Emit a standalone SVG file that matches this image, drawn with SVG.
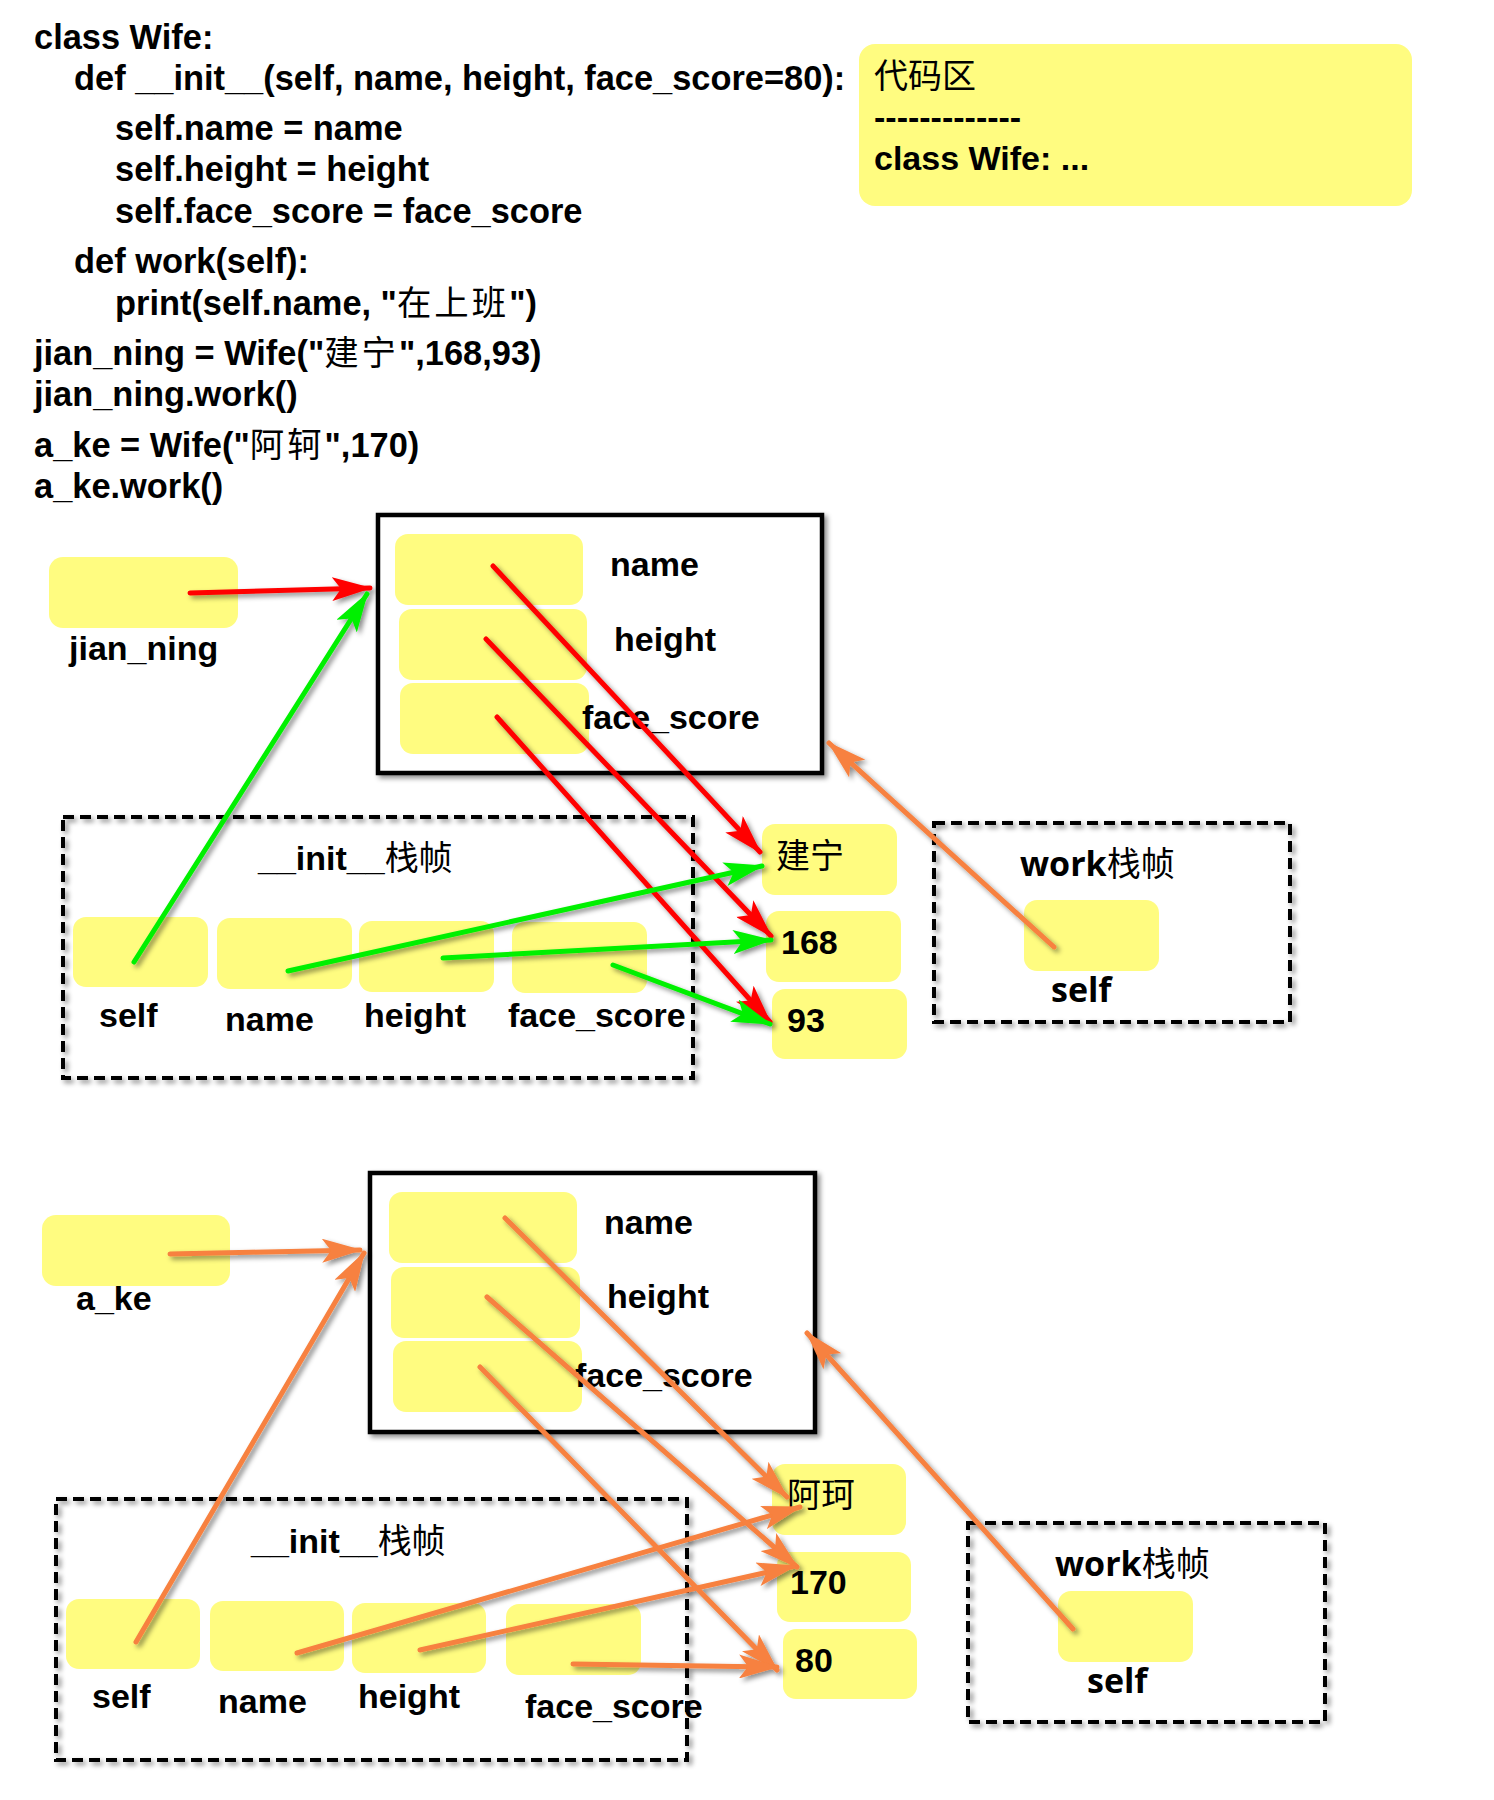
<svg xmlns="http://www.w3.org/2000/svg" width="1494" height="1800" viewBox="0 0 1494 1800">
<style>
text{font-family:"Liberation Sans","Noto Sans CJK SC",sans-serif;font-size:34px;font-weight:bold;fill:#000}
.code text{font-size:34.4px}
.cjk{font-family:"Noto Sans CJK SC",sans-serif;font-weight:normal}
.code .cjk{letter-spacing:3px}
.wk{font-family:"Open Sans","Liberation Sans","Noto Sans CJK SC",sans-serif;font-weight:bold}
.slot{fill:#FFFC80}
.obj{fill:#fff;stroke:#000;stroke-width:4.5}
.frame{fill:none;stroke:#000;stroke-width:4;stroke-dasharray:11 6}
.r{stroke:#FF0000;stroke-width:5;fill:none;stroke-linecap:round}
.g{stroke:#00F000;stroke-width:5;fill:none;stroke-linecap:round}
.o{stroke:#F7813F;stroke-width:5;fill:none;stroke-linecap:round}
</style>
<defs>
<filter id="sh" filterUnits="userSpaceOnUse" x="0" y="0" width="1494" height="1800">
<feDropShadow dx="3" dy="3" stdDeviation="2.5" flood-color="#000" flood-opacity="0.45"/>
</filter>
<marker id="ar" viewBox="0 0 40 24" refX="38" refY="12" markerWidth="40" markerHeight="24" markerUnits="userSpaceOnUse" orient="auto"><path d="M0,0 L40,12 L0,24 L9,12 Z" fill="#FF0000"/></marker>
<marker id="ag" viewBox="0 0 40 24" refX="38" refY="12" markerWidth="40" markerHeight="24" markerUnits="userSpaceOnUse" orient="auto"><path d="M0,0 L40,12 L0,24 L9,12 Z" fill="#00F000"/></marker>
<marker id="ao" viewBox="0 0 40 24" refX="38" refY="12" markerWidth="40" markerHeight="24" markerUnits="userSpaceOnUse" orient="auto"><path d="M0,0 L40,12 L0,24 L9,12 Z" fill="#F7813F"/></marker>
</defs>
<rect width="1494" height="1800" fill="#fff"/>

<g id="code" class="code">
<text x="34" y="49">class Wife:</text>
<text x="74" y="90">def __init__(self, name, height, face_score=80):</text>
<text x="115" y="140">self.name = name</text>
<text x="115" y="181">self.height = height</text>
<text x="115" y="223">self.face_score = face_score</text>
<text x="74" y="273">def work(self):</text>
<text x="115" y="315">print(self.name, "<tspan class="cjk">在上班</tspan>")</text>
<text x="34" y="365">jian_ning = Wife("<tspan class="cjk">建宁</tspan>",168,93)</text>
<text x="34" y="406">jian_ning.work()</text>
<text x="34" y="457">a_ke = Wife("<tspan class="cjk">阿轲</tspan>",170)</text>
<text x="34" y="498">a_ke.work()</text>
</g>

<g id="code-area">
<rect x="859" y="44" width="553" height="162" rx="16" class="slot"/>
<text x="874" y="88" class="cjk">代码区</text>
<text x="874" y="129">-------------</text>
<text x="874" y="170">class Wife: ...</text>
</g>

<!-- Section 1 -->
<g id="jian_ning">
<rect x="49" y="557" width="189" height="71" rx="14" class="slot"/>
<text x="69" y="660">jian_ning</text>
</g>

<g id="obj1">
<rect x="378" y="515" width="444" height="258" class="obj" filter="url(#sh)"/>
<rect x="395" y="534" width="188" height="71" rx="13" class="slot"/>
<rect x="399" y="609" width="188" height="71" rx="13" class="slot"/>
<rect x="400" y="683" width="189" height="71" rx="13" class="slot"/>
<text x="610" y="576">name</text>
<text x="614" y="651">height</text>
<text x="582" y="729">face_score</text>
</g>

<g id="init1">
<rect x="63" y="817" width="630" height="261" class="frame" filter="url(#sh)"/>
<text x="258" y="870">__init__<tspan class="cjk">栈帧</tspan></text>
<rect x="73" y="917" width="135" height="70" rx="13" class="slot"/>
<rect x="217" y="918" width="135" height="71" rx="13" class="slot"/>
<rect x="359" y="921" width="135" height="71" rx="13" class="slot"/>
<rect x="512" y="922" width="135" height="71" rx="13" class="slot"/>
<text x="99" y="1027">self</text>
<text x="225" y="1031">name</text>
<text x="364" y="1027">height</text>
<text x="508" y="1027">face_score</text>
</g>

<g id="val-jianning">
<rect x="762" y="824" width="135" height="71" rx="13" class="slot"/>
<text x="776" y="868" class="cjk">建宁</text>
</g>
<g id="val-168">
<rect x="766" y="911" width="135" height="71" rx="13" class="slot"/>
<text x="781" y="954">168</text>
</g>
<g id="val-93">
<rect x="772" y="989" width="135" height="70" rx="13" class="slot"/>
<text x="787" y="1032">93</text>
</g>

<g id="work1">
<rect x="934" y="823" width="356" height="199" class="frame" filter="url(#sh)"/>
<text x="1020" y="876" class="wk">work<tspan class="cjk">栈帧</tspan></text>
<rect x="1024" y="900" width="135" height="71" rx="13" class="slot"/>
<text x="1051" y="1002" class="wk">self</text>
</g>

<!-- Section 2 -->
<g id="a_ke">
<rect x="42" y="1215" width="188" height="71" rx="14" class="slot"/>
<text x="76" y="1310">a_ke</text>
</g>

<g id="obj2">
<rect x="370" y="1173" width="445" height="259" class="obj" filter="url(#sh)"/>
<rect x="389" y="1192" width="188" height="71" rx="13" class="slot"/>
<rect x="391" y="1267" width="189" height="71" rx="13" class="slot"/>
<rect x="393" y="1341" width="189" height="71" rx="13" class="slot"/>
<text x="604" y="1234">name</text>
<text x="607" y="1308">height</text>
<text x="575" y="1387">face_score</text>
</g>

<g id="init2">
<rect x="56" y="1499" width="631" height="261" class="frame" filter="url(#sh)"/>
<text x="251" y="1553">__init__<tspan class="cjk">栈帧</tspan></text>
<rect x="66" y="1599" width="134" height="70" rx="13" class="slot"/>
<rect x="210" y="1601" width="134" height="70" rx="13" class="slot"/>
<rect x="352" y="1603" width="134" height="70" rx="13" class="slot"/>
<rect x="506" y="1604" width="135" height="71" rx="13" class="slot"/>
<text x="92" y="1708">self</text>
<text x="218" y="1713">name</text>
<text x="358" y="1708">height</text>
<text x="525" y="1718">face_score</text>
</g>

<g id="val-ake">
<rect x="772" y="1464" width="134" height="71" rx="13" class="slot"/>
<text x="787" y="1507" class="cjk">阿珂</text>
</g>
<g id="val-170">
<rect x="777" y="1552" width="134" height="70" rx="13" class="slot"/>
<text x="790" y="1594">170</text>
</g>
<g id="val-80">
<rect x="783" y="1629" width="134" height="70" rx="13" class="slot"/>
<text x="795" y="1672">80</text>
</g>

<g id="work2">
<rect x="968" y="1523" width="357" height="199" class="frame" filter="url(#sh)"/>
<text x="1055" y="1576" class="wk">work<tspan class="cjk">栈帧</tspan></text>
<rect x="1058" y="1591" width="135" height="71" rx="13" class="slot"/>
<text x="1087" y="1693" class="wk">self</text>
</g>

<g id="connectors" filter="url(#sh)">
<line x1="190" y1="593" x2="370" y2="588" class="r" marker-end="url(#ar)"/>
<line x1="134" y1="962" x2="367" y2="594" class="g" marker-end="url(#ag)"/>
<line x1="493" y1="566" x2="760" y2="852" class="r" marker-end="url(#ar)"/>
<line x1="486" y1="639" x2="771" y2="936" class="r" marker-end="url(#ar)"/>
<line x1="497" y1="717" x2="770" y2="1022" class="r" marker-end="url(#ar)"/>
<line x1="288" y1="971" x2="762" y2="866" class="g" marker-end="url(#ag)"/>
<line x1="443" y1="958" x2="771" y2="940" class="g" marker-end="url(#ag)"/>
<line x1="613" y1="965" x2="770" y2="1024" class="g" marker-end="url(#ag)"/>
<line x1="1054" y1="947" x2="829" y2="743" class="o" marker-end="url(#ao)"/>

<line x1="170" y1="1254" x2="360" y2="1250" class="o" marker-end="url(#ao)"/>
<line x1="136" y1="1642" x2="364" y2="1253" class="o" marker-end="url(#ao)"/>
<line x1="505" y1="1218" x2="787" y2="1497" class="o" marker-end="url(#ao)"/>
<line x1="297" y1="1653" x2="800" y2="1507" class="o" marker-end="url(#ao)"/>
<line x1="487" y1="1297" x2="797" y2="1567" class="o" marker-end="url(#ao)"/>
<line x1="420" y1="1650" x2="795" y2="1566" class="o" marker-end="url(#ao)"/>
<line x1="480" y1="1367" x2="777" y2="1670" class="o" marker-end="url(#ao)"/>
<line x1="573" y1="1664" x2="777" y2="1667" class="o" marker-end="url(#ao)"/>
<line x1="1073" y1="1629" x2="807" y2="1333" class="o" marker-end="url(#ao)"/>
</g>
</svg>
